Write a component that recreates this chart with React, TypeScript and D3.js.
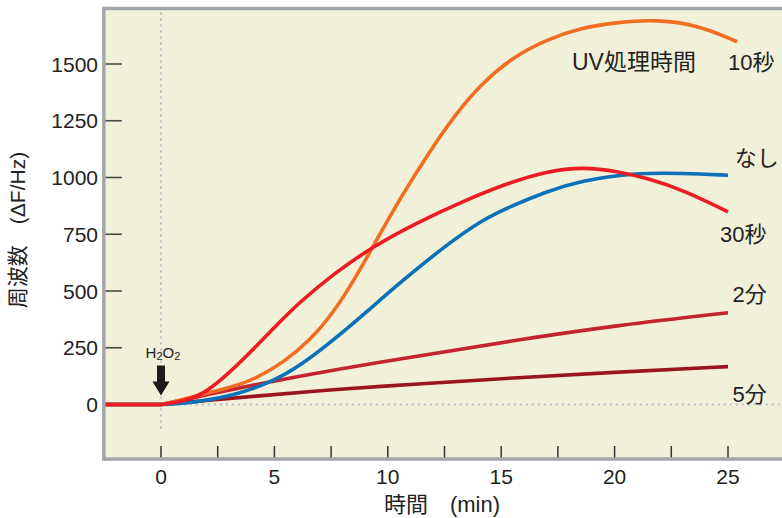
import React from "react";
import * as d3 from "d3";

type Pt = [number, number];

const xTicksMajor = [0, 5, 10, 15, 20, 25];
const xTicksMinor = [0, 2.5, 5, 7.5, 10, 12.5, 15, 17.5, 20, 22.5, 25];
const yTicks = [0, 250, 500, 750, 1000, 1250, 1500];
const preStart = -2.5;

const series10s: Pt[] = [[0, 0], [0.8, 18], [1.7, 42], [3.2, 78], [4.2, 115], [5.4, 185], [6.6, 285], [7.6, 405], [8.5, 545], [9.35, 696], [10.5, 902], [11.9, 1123], [13, 1280], [14.1, 1410], [15.5, 1530], [17, 1608], [18.5, 1658], [20, 1683], [21.9, 1697], [23.8, 1668], [25.4, 1598]];
const seriesNone: Pt[] = [[0, 0], [0.8, 4], [1.7, 13], [3.2, 40], [4.7, 92], [6.1, 165], [8.3, 340], [10.5, 535], [12.7, 712], [14.2, 815], [15.4, 872], [17, 938], [18.5, 985], [20.8, 1020], [23, 1019], [25, 1010]];
const series30s: Pt[] = [[0, 0], [1, 14], [1.85, 45], [2.8, 120], [3.9, 225], [5, 340], [6.1, 450], [7.6, 575], [9.35, 696], [11.3, 802], [13.5, 904], [15.4, 979], [17, 1027], [18.6, 1047], [20.2, 1026], [21.5, 995], [23, 946], [25, 849]];
const series2m: Pt[] = [[0, 0], [2, 42], [4, 85], [8, 160], [11.4, 214], [15.4, 280], [20.2, 350], [25, 404]];
const series5m: Pt[] = [[0, 0], [2, 18], [4, 35], [8, 70], [11.4, 90], [15.4, 117], [20.2, 143], [25, 167]];

const seriesList = [
  { name: "5分", data: series5m, color: "#9b1520" },
  { name: "2分", data: series2m, color: "#c4242f" },
  { name: "なし", data: seriesNone, color: "#0b72b9" },
  { name: "10秒", data: series10s, color: "#f26d21" },
  { name: "30秒", data: series30s, color: "#ec1c24" },
];

const labels: { text: string; t: number; v: number }[] = [
  { text: "UV処理時間", t: 18.12, v: 1475 },
  { text: "10秒", t: 25.0, v: 1475 },
  { text: "なし", t: 25.3, v: 1052 },
  { text: "30秒", t: 24.65, v: 717 },
  { text: "2分", t: 25.2, v: 452 },
  { text: "5分", t: 25.2, v: 12 },
];

const FONT = '"Liberation Sans", Arial, "Noto Sans CJK JP", sans-serif';

export default function App() {
  const W = 782, H = 518;
  const x = d3.scaleLinear().domain([0, 25]).range([161, 728]);
  const y = d3.scaleLinear().domain([0, 1500]).range([404.5, 64]);
  const xL = x(-2.52);
  const xR = W + 10;
  const yT = y(1745);
  const yB = y(-240);
  const line = d3
    .line<Pt>()
    .x((d) => x(d[0]))
    .y((d) => y(d[1]))
    .curve(d3.curveBasis);
  const pathFor = (data: Pt[]) => {
    const main = line(data) || "";
    return `M${x(preStart)},${y(0)}L${x(0)},${y(0)}` + main.replace(/^M/, "L");
  };

  const ax = x(0);
  const ay = y(0);
  const arrowPath = `M${ax - 4},${ay - 39} L${ax + 4},${ay - 39} L${ax + 4},${ay - 23} L${ax + 8.5},${ay - 23} L${ax},${ay - 9} L${ax - 8.5},${ay - 23} L${ax - 4},${ay - 23} Z`;

  return (
    <svg width={W} height={H} style={{ position: "absolute", left: 0, top: 0, background: "#fff" }} fontFamily={FONT}>
      <rect x={xL} y={yT} width={xR - xL} height={yB - yT} fill="#f1f0d8" />
      <line x1={x(0)} x2={x(0)} y1={yT + 4} y2={yB - 28} stroke="#b7bccb" strokeWidth={2} strokeDasharray="2 4" />
      <line x1={xL + 2} x2={xR} y1={y(0)} y2={y(0)} stroke="#b7bccb" strokeWidth={2} strokeDasharray="2 4" />
      {yTicks.map((v) => (
        <g key={"y" + v}>
          <line x1={xL} x2={xL + 18} y1={y(v)} y2={y(v)} stroke="#4a4a44" strokeWidth={1.6} />
          <text x={98} y={y(v)} dy="0.36em" textAnchor="end" fontSize={21} fill="#222">{v}</text>
        </g>
      ))}
      {xTicksMinor.map((t) => (
        <line key={"xm" + t} x1={x(t)} x2={x(t)} y1={yB - 13} y2={yB} stroke="#333" strokeWidth={1.5} />
      ))}
      {xTicksMajor.map((t) => (
        <text key={"xl" + t} x={x(t)} y={484} textAnchor="middle" fontSize={21} fill="#222">{t}</text>
      ))}
      {seriesList.map((s) => (
        <path key={s.name} d={pathFor(s.data)} fill="none" stroke={s.color} strokeWidth={3.6} strokeLinejoin="round" />
      ))}
      <line x1={xL} x2={xR} y1={yT} y2={yT} stroke="#a3a7ab" strokeWidth={3.5} />
      <line x1={xL} x2={xR} y1={yB} y2={yB} stroke="#a3a7ab" strokeWidth={3.5} />
      <line x1={xL} x2={xL} y1={yT - 1.75} y2={yB + 1.75} stroke="#a3a7ab" strokeWidth={3.5} />
      {labels.map((l) => (
        <text key={l.text} x={x(l.t)} y={y(l.v)} fontSize={l.text.length > 3 ? 23 : 22} fill="#222">{l.text}</text>
      ))}
      <text x={ax + 2} y={ay - 47} textAnchor="middle" fontSize={15} fill="#222">
        H<tspan fontSize={11} dy={2}>2</tspan><tspan dy={-2}>O</tspan><tspan fontSize={11} dy={2}>2</tspan>
      </text>
      <path d={arrowPath} fill="#1a1a1a" />
      <text x={442} y={512} textAnchor="middle" fontSize={22} fill="#222">時間　(min)</text>
      <text transform={`translate(17,${230}) rotate(-90)`} textAnchor="middle" dy="0.36em" fontSize={21} fill="#222">周波数　(ΔF/Hz)</text>
    </svg>
  );
}
